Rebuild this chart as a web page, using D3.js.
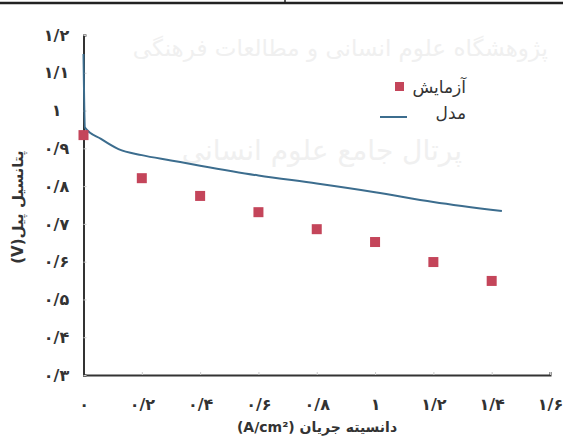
<!DOCTYPE html>
<html><head><meta charset="utf-8">
<script src="https://cdn.jsdelivr.net/npm/d3@7"></script>
<style>body{margin:0;background:#fff}svg{display:block}</style>
</head><body><div id="chart"></div>
<script>
const xTicks = [0, 0.2, 0.4, 0.6, 0.8, 1.0, 1.2, 1.4, 1.6];
const xTickLabels = ["۰", "۰/۲", "۰/۴", "۰/۶", "۰/۸", "۱", "۱/۲", "۱/۴", "۱/۶"];
const yTicks = [0.3, 0.4, 0.5, 0.6, 0.7, 0.8, 0.9, 1.0, 1.1, 1.2];
const yTickLabels = ["۰/۳", "۰/۴", "۰/۵", "۰/۶", "۰/۷", "۰/۸", "۰/۹", "۱", "۱/۱", "۱/۲"];
const expX = [0, 0.2, 0.4, 0.6, 0.8, 1.0, 1.2, 1.4];
const expY = [0.935, 0.821, 0.774, 0.731, 0.686, 0.652, 0.599, 0.549];
const modelX = [0, 0.005, 0.06, 0.12, 0.2, 0.3, 0.4, 0.6, 0.8, 1.0, 1.2, 1.435];
const modelY = [1.15, 0.955, 0.925, 0.898, 0.882, 0.868, 0.854, 0.828, 0.807, 0.784, 0.758, 0.734];
const seriesNames = ["آزمایش", "مدل"];
const xTitle = "دانسیته جریان (A/cm²)";
const yTitle = "پتانسیل پیل(V)";
const watermark = ["پژوهشگاه علوم انسانی و مطالعات فرهنگی", "پرتال جامع علوم انسانی"];

const W = 563, H = 439;
const m = {left: 83.5, right: 13, top: 35, bottom: 64};
const svg = d3.select("#chart").append("svg").attr("width", W).attr("height", H);
const font = "'DejaVu Sans', 'Noto Sans', sans-serif";

// watermark
svg.append("text").attr("x", 548).attr("y", 56).attr("text-anchor", "end")
  .attr("font-family", font).attr("font-size", 23).attr("fill", "#f0f0f0")
  .text(watermark[0]);
svg.append("text").attr("x", 462).attr("y", 160).attr("text-anchor", "end")
  .attr("font-family", font).attr("font-size", 28).attr("fill", "#f0f0f0")
  .text(watermark[1]);

// top border
svg.append("line").attr("x1", 0).attr("x2", W).attr("y1", 3).attr("y2", 3)
  .attr("stroke", "#222").attr("stroke-width", 2.5);
svg.append("line").attr("x1", 285).attr("x2", 285).attr("y1", 0).attr("y2", 4)
  .attr("stroke", "#222").attr("stroke-width", 1.5);

const x = d3.scaleLinear().domain([0, 1.6]).range([m.left, W - m.right]);
const y = d3.scaleLinear().domain([0.3, 1.2]).range([H - m.bottom, m.top]);

// X axis
const xAxis = svg.append("g").attr("transform", `translate(0,${y(0.3)})`)
  .call(d3.axisBottom(x).tickValues(xTicks).tickSize(-3).tickFormat((d, i) => xTickLabels[i]));
xAxis.select(".domain").attr("stroke", "#333").attr("stroke-width", 2);
xAxis.selectAll(".tick line").attr("stroke", "#ccc");
xAxis.selectAll(".tick text").attr("font-family", font).attr("font-size", 16)
  .attr("font-weight", "bold").attr("fill", "#333").attr("y", 24);

// Y axis
const yAxis = svg.append("g").attr("transform", `translate(${x(0)},0)`)
  .call(d3.axisLeft(y).tickValues(yTicks).tickSize(-3).tickFormat((d, i) => yTickLabels[i]));
yAxis.select(".domain").attr("stroke", "#333").attr("stroke-width", 2);
yAxis.selectAll(".tick line").attr("stroke", "#ccc");
yAxis.selectAll(".tick text").attr("font-family", font).attr("font-size", 16)
  .attr("font-weight", "bold").attr("fill", "#333")
  .attr("text-anchor", "middle").attr("x", -27);

// model line
const pts = modelX.map((v, i) => [v, modelY[i]]);
svg.append("path").datum(pts)
  .attr("d", d3.line().x(d => x(d[0])).y(d => y(d[1])).curve(d3.curveMonotoneX))
  .attr("fill", "none").attr("stroke", "#3c6d8e").attr("stroke-width", 2);

// experiment markers
const s = 10;
svg.append("g").selectAll("rect").data(expX.map((v, i) => [v, expY[i]])).join("rect")
  .attr("x", d => x(d[0]) - s / 2).attr("y", d => y(d[1]) - s / 2)
  .attr("width", s).attr("height", s).attr("fill", "#c4455a");

// legend
svg.append("rect").attr("x", 395).attr("y", 82).attr("width", 9).attr("height", 9).attr("fill", "#c4455a");
svg.append("text").attr("x", 466).attr("y", 93).attr("text-anchor", "end")
  .attr("font-family", font).attr("font-size", 17).attr("fill", "#333").text(seriesNames[0]);
svg.append("line").attr("x1", 380).attr("x2", 407).attr("y1", 117).attr("y2", 117)
  .attr("stroke", "#3c6d8e").attr("stroke-width", 2);
svg.append("text").attr("x", 466).attr("y", 119).attr("text-anchor", "end")
  .attr("font-family", font).attr("font-size", 17).attr("fill", "#333").text(seriesNames[1]);

// axis titles
svg.append("text").attr("x", 317).attr("y", 432).attr("text-anchor", "middle")
  .attr("direction", "rtl").style("unicode-bidi", "embed")
  .attr("font-family", font).attr("font-size", 14).attr("font-weight", "bold").attr("fill", "#333")
  .text(xTitle);
svg.append("text").attr("transform", "translate(23,207) rotate(-90)").attr("text-anchor", "middle")
  .attr("direction", "rtl").style("unicode-bidi", "embed")
  .attr("font-family", font).attr("font-size", 15).attr("font-weight", "bold").attr("fill", "#333")
  .text(yTitle);
</script></body></html>
